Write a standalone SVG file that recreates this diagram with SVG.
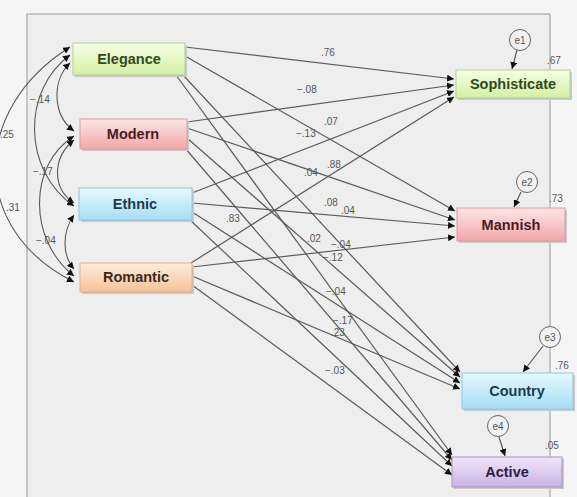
<svg xmlns="http://www.w3.org/2000/svg" width="577" height="497" viewBox="0 0 577 497">
<style>
.lbl{font-family:"Liberation Sans",Arial,sans-serif;font-size:10px;fill:#555}
.nt{font-family:"Liberation Sans",Arial,sans-serif;font-size:14.5px;font-weight:bold;text-anchor:middle}
.ln{fill:none;stroke:#5a5a5a;stroke-width:1.2}
.cv{fill:none;stroke:#5a5a5a;stroke-width:1.1}
.sh{fill:#c9c9c9}
.err{fill:#f2f2f2;stroke:#666;stroke-width:1}
.et{font-family:"Liberation Sans",Arial,sans-serif;font-size:10px;fill:#555;text-anchor:middle}
</style>
<defs>
<marker id="arr" markerUnits="userSpaceOnUse" markerWidth="8" markerHeight="7" refX="7" refY="3.5" orient="auto-start-reverse"><path d="M0,0 L7,3.5 L0,7 z" fill="#111"/></marker>
<linearGradient id="gG" x1="0" y1="0" x2="0" y2="1"><stop offset="0" stop-color="#f6ffe4"/><stop offset="1" stop-color="#d4f0a4"/></linearGradient>
<linearGradient id="gR" x1="0" y1="0" x2="0" y2="1"><stop offset="0" stop-color="#fde6e6"/><stop offset="1" stop-color="#f2a6a8"/></linearGradient>
<linearGradient id="gB" x1="0" y1="0" x2="0" y2="1"><stop offset="0" stop-color="#e6f8fe"/><stop offset="1" stop-color="#a6def4"/></linearGradient>
<linearGradient id="gO" x1="0" y1="0" x2="0" y2="1"><stop offset="0" stop-color="#feecdc"/><stop offset="1" stop-color="#f6c398"/></linearGradient>
<linearGradient id="gP" x1="0" y1="0" x2="0" y2="1"><stop offset="0" stop-color="#f0e6f8"/><stop offset="1" stop-color="#c9b2e2"/></linearGradient>
</defs>
<rect x="0" y="0" width="577" height="497" fill="#f5f5f5"/>
<rect x="27" y="14" width="523" height="490" fill="#eeeeee" stroke="#a8a8a8" stroke-width="1.2"/>

<g id="connectors">
<path class="cv" d="M70,63 C52,80 52,115 74,131" marker-start="url(#arr)" marker-end="url(#arr)"/>
<path class="cv" d="M74,140 C52,158 52,188 74,203" marker-start="url(#arr)" marker-end="url(#arr)"/>
<path class="cv" d="M74,215 C62,232 62,255 74,269" marker-start="url(#arr)" marker-end="url(#arr)"/>
<path class="cv" d="M70,55 C22,90 22,170 74,206" marker-start="url(#arr)" marker-end="url(#arr)"/>
<path class="cv" d="M74,136 C28,165 28,240 74,276" marker-start="url(#arr)" marker-end="url(#arr)"/>
<path class="cv" d="M70,47 C-30,110 -30,230 74,282" marker-start="url(#arr)" marker-end="url(#arr)"/>
<path class="ln" d="M185,47 L454,79" marker-end="url(#arr)"/>
<path class="ln" d="M185,56 L455,211" marker-end="url(#arr)"/>
<path class="ln" d="M183,75 L460,372" marker-end="url(#arr)"/>
<path class="ln" d="M176,75 L452,455" marker-end="url(#arr)"/>
<path class="ln" d="M187,122 L454,85" marker-end="url(#arr)"/>
<path class="ln" d="M187,128 L455,220" marker-end="url(#arr)"/>
<path class="ln" d="M187,138 L460,377" marker-end="url(#arr)"/>
<path class="ln" d="M185,148 L452,460" marker-end="url(#arr)"/>
<path class="ln" d="M192,193 L454,91" marker-end="url(#arr)"/>
<path class="ln" d="M192,203 L455,226" marker-end="url(#arr)"/>
<path class="ln" d="M192,212 L460,383" marker-end="url(#arr)"/>
<path class="ln" d="M190,220 L452,466" marker-end="url(#arr)"/>
<path class="ln" d="M191,263 L454,97" marker-end="url(#arr)"/>
<path class="ln" d="M192,267 L455,237" marker-end="url(#arr)"/>
<path class="ln" d="M192,276 L460,389" marker-end="url(#arr)"/>
<path class="ln" d="M192,285 L452,475" marker-end="url(#arr)"/>
<path class="ln" d="M517,50 L512,69" marker-end="url(#arr)"/>
<path class="ln" d="M521,192 L514,207" marker-end="url(#arr)"/>
<path class="ln" d="M543,346 L523,372" marker-end="url(#arr)"/>
<path class="ln" d="M499,437 L505,456" marker-end="url(#arr)"/>
</g>

<g id="coef-labels">
<text class="lbl" x="0" y="138">.25</text>
<text class="lbl" x="30" y="103">−.14</text>
<text class="lbl" x="33" y="175">−.17</text>
<text class="lbl" x="6" y="211">.31</text>
<text class="lbl" x="36" y="244">−.04</text>
<text class="lbl" x="321" y="56">.76</text>
<text class="lbl" x="297" y="93">−.08</text>
<text class="lbl" x="324" y="125">.07</text>
<text class="lbl" x="296" y="137">−.13</text>
<text class="lbl" x="327" y="168">.88</text>
<text class="lbl" x="304" y="176">.04</text>
<text class="lbl" x="226" y="222">.83</text>
<text class="lbl" x="324" y="206">.08</text>
<text class="lbl" x="341" y="214">.04</text>
<text class="lbl" x="307" y="242">.02</text>
<text class="lbl" x="331" y="248">−.04</text>
<text class="lbl" x="323" y="261">−.12</text>
<text class="lbl" x="326" y="295">−.04</text>
<text class="lbl" x="333" y="324">−.17</text>
<text class="lbl" x="331" y="336">.23</text>
<text class="lbl" x="325" y="374">−.03</text>
<text class="lbl" x="547" y="64">.67</text>
<text class="lbl" x="549" y="202">.73</text>
<text class="lbl" x="555" y="369">.76</text>
<text class="lbl" x="545" y="449">.05</text>
</g>

<g id="e1"><circle class="err" cx="520" cy="40" r="10.5"/><text class="et" x="520" y="44">e1</text></g>
<g id="e2"><circle class="err" cx="527" cy="182" r="10.5"/><text class="et" x="527" y="186">e2</text></g>
<g id="e3"><circle class="err" cx="550" cy="337" r="10.5"/><text class="et" x="550" y="341">e3</text></g>
<g id="e4"><circle class="err" cx="498" cy="426" r="10.5"/><text class="et" x="498" y="430">e4</text></g>

<g id="Elegance"><rect class="sh" x="75" y="45" width="112" height="32"/><rect x="73" y="43" width="112" height="32" fill="url(#gG)" stroke="#b5cf8e"/><text class="nt" x="129" y="64" fill="#2f4a20">Elegance</text></g>
<g id="Modern"><rect class="sh" x="82" y="121" width="107" height="30"/><rect x="80" y="119" width="107" height="30" fill="url(#gR)" stroke="#d99a9a"/><text class="nt" x="133" y="139" fill="#4a1c1c">Modern</text></g>
<g id="Ethnic"><rect class="sh" x="81" y="190" width="113" height="32"/><rect x="79" y="188" width="113" height="32" fill="url(#gB)" stroke="#8fc6dc"/><text class="nt" x="135" y="209" fill="#1c3a4e">Ethnic</text></g>
<g id="Romantic"><rect class="sh" x="82" y="265" width="112" height="29"/><rect x="80" y="263" width="112" height="29" fill="url(#gO)" stroke="#e0b088"/><text class="nt" x="136" y="282" fill="#3e2a1a">Romantic</text></g>
<g id="Sophisticate"><rect class="sh" x="458" y="72" width="114" height="28"/><rect x="456" y="70" width="114" height="28" fill="url(#gG)" stroke="#b5cf8e"/><text class="nt" x="513" y="89" fill="#2f4a20">Sophisticate</text></g>
<g id="Mannish"><rect class="sh" x="459" y="210" width="108" height="33"/><rect x="457" y="208" width="108" height="33" fill="url(#gR)" stroke="#d99a9a"/><text class="nt" x="511" y="230" fill="#4a1c1c">Mannish</text></g>
<g id="Country"><rect class="sh" x="464" y="375" width="111" height="36"/><rect x="462" y="373" width="111" height="36" fill="url(#gB)" stroke="#8fc6dc"/><text class="nt" x="517" y="396" fill="#1c3a4e">Country</text></g>
<g id="Active"><rect class="sh" x="454" y="459" width="110" height="30"/><rect x="452" y="457" width="110" height="30" fill="url(#gP)" stroke="#a892c4"/><text class="nt" x="507" y="477" fill="#2e1e40">Active</text></g>
</svg>
